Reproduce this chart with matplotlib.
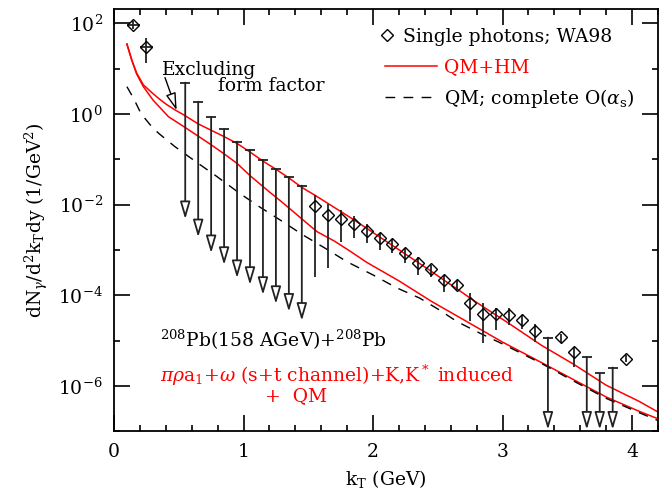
import matplotlib
matplotlib.use("Agg")
import matplotlib.pyplot as plt
import numpy as np
from matplotlib.lines import Line2D
from matplotlib.legend_handler import HandlerLine2D
from matplotlib.ticker import LogLocator, MultipleLocator, NullFormatter, LogFormatterSciNotation

plt.rcParams['font.family'] = 'DejaVu Serif'
plt.rcParams['mathtext.fontset'] = 'dejavuserif'

# WA98 single photons, measured points (values read as log10 of the yield)
kt_pts = [0.15, 0.25, 1.55, 1.65, 1.75, 1.85, 1.95, 2.05, 2.15, 2.25, 2.35, 2.45,
          2.55, 2.65, 2.75, 2.85, 2.95, 3.05, 3.15, 3.25, 3.45, 3.55, 3.95]
log_pts = [1.96, 1.47, -2.04, -2.23, -2.32, -2.43, -2.57, -2.74, -2.86, -3.07, -3.29, -3.42,
           -3.66, -3.77, -4.16, -4.42, -4.42, -4.43, -4.55, -4.79, -4.92, -5.25, -5.40]
log_pts_hi = [2.05, 1.67, -1.79, -1.99, -2.11, -2.26, -2.43, -2.62, -2.76, -2.96, -3.15, -3.33,
              -3.55, -3.66, -3.95, -4.17, -4.28, -4.28, -4.43, -4.64, -4.84, -5.13, -5.32]
log_pts_lo = [1.87, 1.12, -3.59, -3.40, -2.82, -2.74, -2.85, -3.00, -3.07, -3.29, -3.55, -3.59,
              -3.92, -3.88, -4.56, -5.04, -4.76, -4.65, -4.75, -5.02, -5.04, -5.57, -5.47]
kt_pts_xerr = [0.05, 0.05] + [0.0] * 21

# WA98 upper limits
kt_ul = [0.55, 0.65, 0.75, 0.85, 0.95, 1.05, 1.15, 1.25, 1.35, 1.45, 3.35, 3.65, 3.75, 3.85]
log_ul_top = [0.69, 0.27, -0.07, -0.34, -0.61, -0.79, -1.01, -1.21, -1.39, -1.58,
              -4.93, -5.36, -5.72, -5.59]
log_ul_end = [-2.32, -2.72, -3.07, -3.33, -3.62, -3.77, -3.99, -4.19, -4.36, -4.56,
              -6.96, -6.96, -6.96, -6.96]

# QM+HM, excluding form factor
kt_ff = [0.10, 0.137, 0.175, 0.227, 0.30, 0.35, 0.40, 0.47, 0.55, 0.65, 0.75, 0.85, 0.95,
         1.05, 1.15, 1.25, 1.35, 1.45, 1.55, 1.65, 1.75, 1.85, 1.95, 2.05, 2.15, 2.25,
         2.35, 2.45, 2.55, 2.65, 2.75, 2.85, 3.05, 3.30, 3.55, 3.80, 4.05, 4.20]
log_ff = [1.54, 1.19, 0.90, 0.64, 0.45, 0.33, 0.22, 0.09, -0.04, -0.22, -0.36, -0.50, -0.65,
          -0.84, -1.04, -1.22, -1.41, -1.62, -1.79, -1.97, -2.15, -2.33, -2.52, -2.71, -2.90, -3.09,
          -3.28, -3.47, -3.67, -3.86, -4.06, -4.25, -4.62, -5.10, -5.52, -5.98, -6.33, -6.57]

# QM+HM
kt_hm = [0.10, 0.137, 0.175, 0.227, 0.30, 0.42, 0.55, 0.65, 0.75, 0.85, 0.95, 1.05, 1.20,
         1.30, 1.49, 1.57, 1.70, 1.82, 1.95, 2.20, 2.45, 2.75, 3.00, 3.30, 3.55, 3.80, 4.05, 4.20]
log_hm = [1.54, 1.19, 0.88, 0.60, 0.31, -0.06, -0.30, -0.49, -0.68, -0.88, -1.09, -1.36, -1.72,
          -1.95, -2.41, -2.60, -2.80, -3.02, -3.27, -3.68, -4.13, -4.62, -5.03, -5.48, -5.86,
          -6.24, -6.55, -6.72]

# QM; complete O(alpha_s)
kt_qm = [0.10, 0.15, 0.21, 0.30, 0.35, 0.47, 0.65, 0.78, 0.97, 1.13, 1.30, 1.46, 1.63, 1.80,
         2.00, 2.18, 2.36, 2.50, 2.65, 2.83, 3.00, 3.30, 3.55, 3.80, 4.05, 4.20]
log_qm = [0.60, 0.35, 0.00, -0.31, -0.44, -0.72, -1.09, -1.35, -1.75, -2.06, -2.37, -2.67,
          -2.96, -3.26, -3.55, -3.83, -4.06, -4.30, -4.58, -4.84, -5.07, -5.50, -5.89, -6.27,
          -6.58, -6.76]

FS = 13.5

fig = plt.figure(figsize=(6.6, 4.97), dpi=100)
ax = fig.add_axes([0.1727, 0.1318, 0.8243, 0.8502])

ax.plot(kt_ff, 10.0 ** np.array(log_ff), color='red', lw=1.1)
ax.plot(kt_hm, 10.0 ** np.array(log_hm), color='red', lw=1.1)
ax.plot(kt_qm, 10.0 ** np.array(log_qm), color='black', lw=1.0, ls=(0, (7, 6)))

y = 10.0 ** np.array(log_pts)
yerr = [y - 10.0 ** np.array(log_pts_lo), 10.0 ** np.array(log_pts_hi) - y]
ax.errorbar(kt_pts, y, yerr=yerr, xerr=kt_pts_xerr, fmt='D', ms=6, mfc='none', mec='black',
            mew=1.0, ecolor='#222222', elinewidth=1.3, capsize=0, zorder=5)

top = 10.0 ** np.array(log_ul_top)
end = 10.0 ** np.array(log_ul_end)
ax.plot(kt_ul, top, ls='none', marker='_', ms=7, mew=1.3, color='#222222')
for xk, t, e in zip(kt_ul, top, end):
    ax.annotate('', xy=(xk, e), xytext=(xk, t),
                arrowprops=dict(arrowstyle='-|>,head_width=0.22,head_length=0.75',
                                fc='white', ec='#222222', lw=1.3,
                                shrinkA=0, shrinkB=0, mutation_scale=14))

ax.set_yscale('log')
ax.set_xlim(0, 4.2)
ax.set_ylim(1e-7, 206)

ax.xaxis.set_major_locator(MultipleLocator(1))
ax.xaxis.set_minor_locator(MultipleLocator(0.2))
ax.yaxis.set_major_locator(LogLocator(base=100, numticks=10))
ax.yaxis.set_major_formatter(LogFormatterSciNotation(base=10))
ax.yaxis.set_minor_locator(LogLocator(base=10, subs=(1.0,), numticks=20))
ax.yaxis.set_minor_formatter(NullFormatter())
ax.tick_params(which='both', direction='in', top=True, right=True, width=1.2,
               labelsize=FS)
ax.tick_params(which='major', length=11.5, pad=8)
ax.tick_params(which='minor', length=4.5)
for s in ax.spines.values():
    s.set_linewidth(1.3)

ax.set_xlabel(r'k$_{\rm T}$ (GeV)', fontsize=FS, labelpad=5)
ax.set_ylabel(r'dN$_\gamma$/d$^2$k$_{\rm T}$dy (1/GeV$^2$)', fontsize=FS, labelpad=6)

ax.text(0.37, 10 ** 0.97, 'Excluding', fontsize=FS, ha='left', va='center')
ax.text(0.80, 10 ** 0.62, 'form factor', fontsize=FS, ha='left', va='center')
ax.annotate('', xy=(0.484, 10 ** 0.08), xytext=(0.394, 10 ** 0.80),
            arrowprops=dict(arrowstyle='-|>,head_width=0.22,head_length=0.75',
                            fc='white', ec='black', lw=1.0, shrinkA=0, shrinkB=0,
                            mutation_scale=14))

ax.text(0.355, 10 ** -4.98, r'$^{208}$Pb(158 AGeV)+$^{208}$Pb', fontsize=FS,
        ha='left', va='center')
ax.text(0.355, 10 ** -5.76, r'$\pi\rho$a$_1$+$\omega$ (s+t channel)+K,K$^*$ induced',
        fontsize=FS, color='red', ha='left', va='center')
ax.text(1.167, 10 ** -6.22, '+  QM', fontsize=FS, color='red', ha='left', va='center')


class LeftMarker(HandlerLine2D):
    def get_xdata(self, legend, xdescent, ydescent, width, height, fontsize):
        return [-xdescent, -xdescent + 2 * 7.0], [-xdescent + 7.0]


h_pts = Line2D([], [], marker='D', ls='none', ms=6, mfc='none', mec='black', mew=1.0)
leg1 = ax.legend([h_pts], ['Single photons; WA98'], loc='center left',
                 bbox_to_anchor=(0.484, 0.934), frameon=False, fontsize=FS,
                 handlelength=0.8, handletextpad=0.55, borderpad=0, borderaxespad=0,
                 numpoints=1, handler_map={h_pts: LeftMarker()})
ax.add_artist(leg1)

h_hm = Line2D([], [], color='red', lw=1.1)
h_qm = Line2D([], [], color='black', lw=1.0, ls=(0, (7, 6)))
leg2 = ax.legend([h_hm, h_qm], ['QM+HM', r'QM; complete O($\alpha_{\rm s}$)'],
                 loc='center left', bbox_to_anchor=(0.498, 0.822), frameon=False,
                 fontsize=FS, handlelength=2.8, handletextpad=0.35, borderpad=0,
                 borderaxespad=0, labelspacing=0.55)
leg2.get_texts()[0].set_color('red')

fig.savefig('out.png', dpi=100)
